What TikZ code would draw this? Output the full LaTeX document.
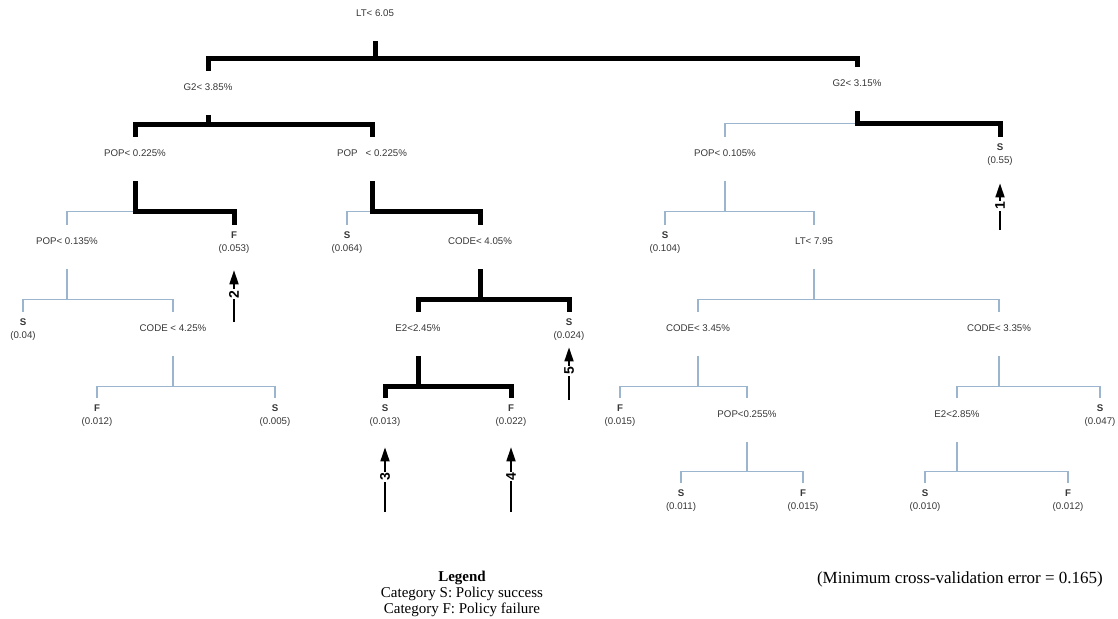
\documentclass[tikz,border=0pt]{standalone}
\usepackage{fontspec}
\setmainfont{Liberation Serif}
\setsansfont{Liberation Sans}
\usetikzlibrary{arrows.meta, positioning}
\definecolor{treeblue}{RGB}{155,181,207}
\definecolor{labelgray}{RGB}{55,55,55}

\tikzset{
  cond/.style={anchor=north, inner xsep=1pt, inner ysep=0pt, text height=19.4pt, text depth=24.6pt,
               font=\sffamily\fontsize{9.7}{11}\selectfont, text=labelgray},
  leaf/.style={anchor=north, align=center, inner xsep=1pt, inner ysep=6.6pt,
               font=\sffamily\fontsize{9.7}{13}\selectfont, text=labelgray},
  mainbranch/.style={black, line width=5pt},
  sidebranch/.style={treeblue, line width=1.2pt},
  pointer/.style={-{Triangle[width=9pt,length=14pt]}, line width=1.7pt},
  num/.style={rotate=90, fill=white, inner sep=1pt, font=\sffamily\bfseries\fontsize{14}{14}\selectfont},
  legend/.style={align=center, inner sep=0pt, font=\fontsize{15}{16}\selectfont}
}

\begin{document}
\begin{tikzpicture}[x=1pt, y=-1pt]
\useasboundingbox (0,0) rectangle (1118,618);

% --- split nodes ---
\node[cond] (lt)    at (375,-3)  {LT< 6.05};
\node[cond] (g2a)   at (208,71)  {G2< 3.85\%};
\node[cond] (g2b)   at (857,67)  {G2< 3.15\%};
\node[cond] (popa)  at (135,137) {POP< 0.225\%};
\node[cond] (popb)  at (372,137) {POP\ \ \ < 0.225\%};
\node[cond] (popc)  at (725,137) {POP< 0.105\%};
\node[cond] (popd)  at (67,225)  {POP< 0.135\%};
\node[cond] (codea) at (480,225) {CODE< 4.05\%};
\node[cond] (ltb)   at (814,225) {LT< 7.95};
\node[cond] (codeb) at (173,312) {CODE < 4.25\%};
\node[cond] (e2a)   at (418,312) {E2<2.45\%};
\node[cond] (codec) at (698,312) {CODE< 3.45\%};
\node[cond] (coded) at (999,312) {CODE< 3.35\%};
\node[cond] (pope)  at (747,398) {POP<0.255\%};
\node[cond] (e2b)   at (957,398) {E2<2.85\%};

% --- leaves ---
\node[leaf] (s1)  at (1000,137) {\textbf{S}\\(0.55)};
\node[leaf] (f1)  at (234,225)  {\textbf{F}\\(0.053)};
\node[leaf] (s2)  at (347,225)  {\textbf{S}\\(0.064)};
\node[leaf] (s3)  at (665,225)  {\textbf{S}\\(0.104)};
\node[leaf] (s4)  at (23,312)   {\textbf{S}\\(0.04)};
\node[leaf] (s5)  at (569,312)  {\textbf{S}\\(0.024)};
\node[leaf] (f2)  at (97,398)   {\textbf{F}\\(0.012)};
\node[leaf] (s6)  at (275,398)  {\textbf{S}\\(0.005)};
\node[leaf] (s7)  at (385,398)  {\textbf{S}\\(0.013)};
\node[leaf] (f3)  at (511,398)  {\textbf{F}\\(0.022)};
\node[leaf] (f4)  at (620,398)  {\textbf{F}\\(0.015)};
\node[leaf] (s8)  at (1100,398) {\textbf{S}\\(0.047)};
\node[leaf] (s9)  at (681,483)  {\textbf{S}\\(0.011)};
\node[leaf] (f5)  at (803,483)  {\textbf{F}\\(0.015)};
\node[leaf] (s10) at (925,483)  {\textbf{S}\\(0.010)};
\node[leaf] (f6)  at (1068,483) {\textbf{F}\\(0.012)};

% --- pruned path (thin) ---
\draw[sidebranch] (g2b.south) ++(0,12) -| (popc.north);
\draw[sidebranch] (popa.south) ++(0,30) -| (popd.north);
\draw[sidebranch] (popb.south) ++(0,30) -| (s2.north);
\draw[sidebranch] (popc.south) -- ++(0,30) -| (s3.north);
\draw[sidebranch] (popc.south) -- ++(0,30) -| (ltb.north);
\draw[sidebranch] (popd.south) -- ++(0,30) -| (s4.north);
\draw[sidebranch] (popd.south) -- ++(0,30) -| (codeb.north);
\draw[sidebranch] (codeb.south) -- ++(0,30) -| (f2.north);
\draw[sidebranch] (codeb.south) -- ++(0,30) -| (s6.north);
\draw[sidebranch] (ltb.south) -- ++(0,30) -| (codec.north);
\draw[sidebranch] (ltb.south) -- ++(0,30) -| (coded.north);
\draw[sidebranch] (codec.south) -- ++(0,30) -| (f4.north);
\draw[sidebranch] (codec.south) -- ++(0,30) -| (pope.north);
\draw[sidebranch] (coded.south) -- ++(0,30) -| (e2b.north);
\draw[sidebranch] (coded.south) -- ++(0,30) -| (s8.north);
\draw[sidebranch] (pope.south) -- ++(0,29) -| (s9.north);
\draw[sidebranch] (pope.south) -- ++(0,29) -| (f5.north);
\draw[sidebranch] (e2b.south) -- ++(0,29) -| (s10.north);
\draw[sidebranch] (e2b.south) -- ++(0,29) -| (f6.north);

% --- main path (thick) ---
\draw[mainbranch] (lt.south) -- ++(0,17) -| (g2a.north);
\draw[mainbranch] (lt.south) -- ++(0,17) -| (g2b.north);
\draw[mainbranch] (g2a.south) -- ++(0,9) -| (popa.north);
\draw[mainbranch] (g2a.south) -- ++(0,9) -| (popb.north);
\draw[mainbranch] (g2b.south) -- ++(0,12) -| (s1.north);
\draw[mainbranch] (popa.south) -- ++(0,30) -| (f1.north);
\draw[mainbranch] (popb.south) -- ++(0,30) -| (codea.north);
\draw[mainbranch] (codea.south) -- ++(0,30) -| (e2a.north);
\draw[mainbranch] (codea.south) -- ++(0,30) -| (s5.north);
\draw[mainbranch] (e2a.south) -- ++(0,30) -| (s7.north);
\draw[mainbranch] (e2a.south) -- ++(0,30) -| (f3.north);

% --- numbered arrows ---
\coordinate (b1) at (1000,230);
\coordinate (b2) at (234,322);
\coordinate (b3) at (385,512);
\coordinate (b4) at (511,512);
\coordinate (b5) at (569,400);
\draw[pointer, shorten >=11pt] (b1) -- (s1.south) node[num, pos=0.42] {1};
\draw[pointer, shorten >=10pt] (b2) -- (f1.south) node[num, pos=0.45] {2};
\draw[pointer, shorten >=14pt] (b3) -- (s7.south) node[num, pos=0.45] {3};
\draw[pointer, shorten >=14pt] (b4) -- (f3.south) node[num, pos=0.45] {4};
\draw[pointer, shorten >=0pt]  (b5) -- (s5.south) node[num, pos=0.55] {5};

% legend
\node[legend] (key) at (462,594) {\textbf{Legend}\\Category S: Policy success\\Category F: Policy failure};
\node[legend, anchor=east, font=\fontsize{17}{18}\selectfont] (cverr) at (1103,579) {(Minimum cross-validation error = 0.165)};

\end{tikzpicture}
\end{document}
